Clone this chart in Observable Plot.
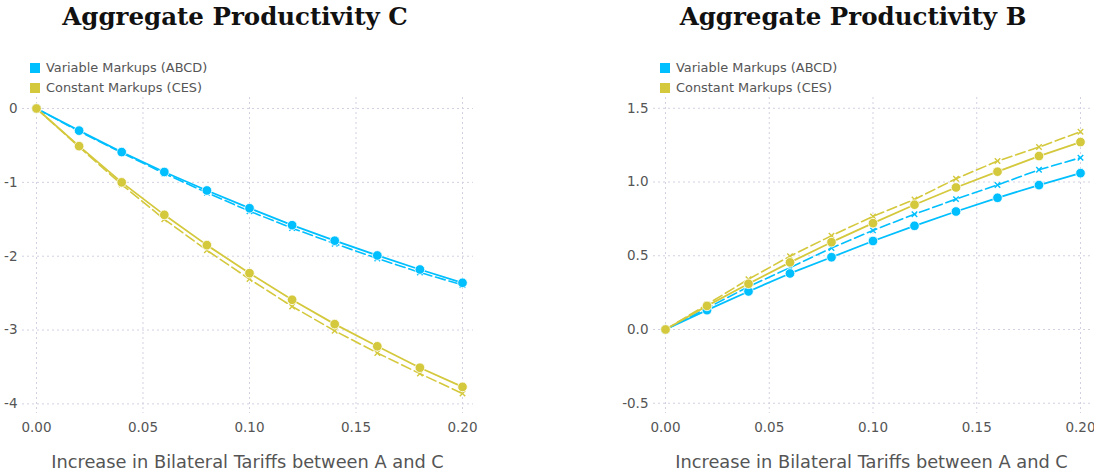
<!DOCTYPE html>
<html>
<head>
<meta charset="utf-8">
<script src="https://cdn.jsdelivr.net/npm/d3@7"></script>
<script src="https://cdn.jsdelivr.net/npm/@observablehq/plot@0.6"></script>
<style>
  html, body { margin: 0; padding: 0; background: #fff; }
  #root { position: relative; width: 1094px; height: 473px; overflow: hidden; font-family: "DejaVu Sans", sans-serif; }
  .title { position: absolute; top: 2px; font-family: "DejaVu Serif", serif; font-weight: bold; font-size: 24.5px; color: #111; transform: translateX(-50%); white-space: nowrap; }
  .legend { position: absolute; top: 58px; font-size: 12.9px; color: #555; line-height: 20px; }
  .legend .item { display: flex; align-items: center; white-space: nowrap; }
  .legend .sw { width: 10px; height: 10px; margin-right: 6px; display: inline-block; }
  .plot { position: absolute; top: 85px; }
  .xlabel { position: absolute; top: 451px; font-size: 17.8px; color: #555; transform: translateX(-50%); white-space: nowrap; }
</style>
</head>
<body>
<div id="root"></div>
<script>
const tariffs = [0, 0.02, 0.04, 0.06, 0.08, 0.10, 0.12, 0.14, 0.16, 0.18, 0.20];

// Aggregate Productivity C
const cVariableSolid  = [0, -0.30, -0.59, -0.86, -1.11, -1.35, -1.58, -1.79, -1.99, -2.18, -2.36];
const cVariableDashed = [0, -0.31, -0.60, -0.88, -1.14, -1.39, -1.62, -1.83, -2.03, -2.22, -2.39];
const cConstantSolid  = [0, -0.51, -1.00, -1.44, -1.85, -2.23, -2.59, -2.92, -3.22, -3.51, -3.77];
const cConstantDashed = [0, -0.52, -1.03, -1.50, -1.92, -2.31, -2.68, -3.01, -3.31, -3.59, -3.86];

// Aggregate Productivity B
const bVariableSolid  = [0, 0.131, 0.258, 0.380, 0.490, 0.600, 0.703, 0.800, 0.893, 0.979, 1.060];
const bVariableDashed = [0, 0.145, 0.290, 0.420, 0.552, 0.672, 0.782, 0.884, 0.980, 1.083, 1.165];
const bConstantSolid  = [0, 0.160, 0.310, 0.455, 0.592, 0.721, 0.846, 0.963, 1.070, 1.176, 1.271];
const bConstantDashed = [0, 0.170, 0.341, 0.497, 0.636, 0.767, 0.882, 1.022, 1.142, 1.237, 1.341];

const seriesNames = ["Variable Markups (ABCD)", "Constant Markups (CES)"];
const xTicks = [0, 0.05, 0.10, 0.15, 0.20];
const cYTicks = [0, -1, -2, -3, -4];
const bYTicks = [1.5, 1.0, 0.5, 0.0, -0.5];
const xTitle = "Increase in Bilateral Tariffs between A and C";
const titles = ["Aggregate Productivity C", "Aggregate Productivity B"];

const BLUE = "#00bfff";
const GOLD = "#d4c83c";
const GRID = "#d3d0e2";

function rows(arr) { return tariffs.map((t, i) => ({x: t, y: arr[i]})); }

function panel(opts) {
  const {left, marginLeft, marginRight, xDomain, yDomain, yTicks, yFmt, solid, dashed, title, titleX, legendX} = opts;
  const root = document.getElementById("root");
  const W = 547, H = 355;
  const marks = [
    Plot.gridX(xTicks, {stroke: GRID, strokeOpacity: 1, strokeDasharray: "2,3", strokeWidth: 1}),
    Plot.gridY(yTicks, {stroke: GRID, strokeOpacity: 1, strokeDasharray: "2,3", strokeWidth: 1}),
    Plot.axisX(xTicks, {tickSize: 0, tickPadding: 9, tickFormat: d => d.toFixed(2), fill: "#555", fontSize: 13.5, label: null}),
    Plot.axisY(yTicks, {tickSize: 0, tickPadding: 5, tickFormat: yFmt, fill: "#555", fontSize: 13.5, label: null}),
  ];
  const colors = [BLUE, GOLD];
  dashed.forEach((arr, k) => {
    marks.push(Plot.line(rows(arr), {x: "x", y: "y", stroke: colors[k], strokeWidth: 1.6, strokeDasharray: "10,4"}));
    marks.push(Plot.dot(rows(arr), {x: "x", y: "y", symbol: "times", r: 2.6, stroke: colors[k], strokeWidth: 1.4}));
  });
  solid.forEach((arr, k) => {
    marks.push(Plot.line(rows(arr), {x: "x", y: "y", stroke: colors[k], strokeWidth: 1.8}));
    marks.push(Plot.dot(rows(arr), {x: "x", y: "y", r: 4.8, fill: colors[k], stroke: "white", strokeWidth: 0.8}));
  });
  const svg = Plot.plot({
    width: W, height: H,
    marginLeft, marginRight, marginTop: 12, marginBottom: 27,
    x: {domain: xDomain},
    y: {domain: yDomain},
    style: {fontFamily: "DejaVu Sans, sans-serif", background: "transparent"},
    marks
  });
  const wrap = document.createElement("div");
  wrap.className = "plot";
  wrap.style.left = left + "px";
  wrap.appendChild(svg);
  root.appendChild(wrap);

  const t = document.createElement("div");
  t.className = "title";
  t.style.left = titleX + "px";
  t.textContent = title;
  root.appendChild(t);

  const lg = document.createElement("div");
  lg.className = "legend";
  lg.style.left = legendX + "px";
  seriesNames.forEach((n, k) => {
    const it = document.createElement("div");
    it.className = "item";
    const sw = document.createElement("span");
    sw.className = "sw";
    sw.style.background = colors[k];
    it.appendChild(sw);
    it.appendChild(document.createTextNode(n));
    lg.appendChild(it);
  });
  root.appendChild(lg);

  const xl = document.createElement("div");
  xl.className = "xlabel";
  xl.style.left = (left + marginLeft + (W - marginLeft - marginRight) / 2) + "px";
  xl.textContent = xTitle;
  root.appendChild(xl);
}

panel({
  left: 0, marginLeft: 22, marginRight: 74,
  xDomain: [-0.00657, 0.20516], yDomain: [-4.130, 0.149],
  yTicks: cYTicks, yFmt: d => String(d),
  solid: [cVariableSolid, cConstantSolid], dashed: [cVariableDashed, cConstantDashed],
  title: titles[0], titleX: 235, legendX: 30
});
panel({
  left: 547, marginLeft: 106, marginRight: 4,
  xDomain: [-0.00578, 0.20482], yDomain: [-0.5695, 1.573],
  yTicks: bYTicks, yFmt: d => d.toFixed(1),
  solid: [bVariableSolid, bConstantSolid], dashed: [bVariableDashed, bConstantDashed],
  title: titles[1], titleX: 853, legendX: 660
});
</script>
</body>
</html>
